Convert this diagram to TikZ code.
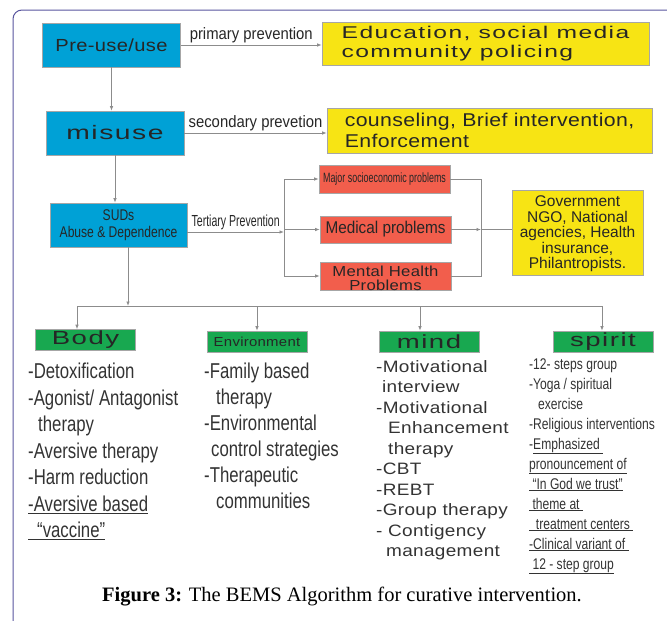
\documentclass[tikz,border=0pt]{standalone}
\usepackage{fontspec}
\setmainfont{Liberation Serif}
\setsansfont{Liberation Sans}
\newfontfamily\wideF[FakeStretch=1.45,LetterSpace=8]{Liberation Sans}
\newfontfamily\medF[FakeStretch=1.15,LetterSpace=2]{Liberation Sans}
\newfontfamily\labF[FakeStretch=0.9]{Liberation Sans}
\newfontfamily\condF[FakeStretch=0.78]{Liberation Sans}
\newfontfamily\narrowF[FakeStretch=0.66]{Liberation Sans}
\usetikzlibrary{arrows.meta}
\definecolor{boxblue}{RGB}{0,161,214}
\definecolor{boxyellow}{RGB}{247,228,20}
\definecolor{boxred}{RGB}{242,94,76}
\definecolor{boxgreen}{RGB}{24,168,80}
\definecolor{framecol}{RGB}{88,84,158}
\begin{document}
\begin{tikzpicture}[x=1pt,y=-1pt,
  box/.style={draw=black!35,line width=0.6pt,inner sep=0pt,text=black!85},
  blue box/.style={box,fill=boxblue,minimum width=138pt,minimum height=44pt},
  yellow box/.style={box,fill=boxyellow,align=left},
  red box/.style={box,fill=boxred,minimum width=131pt,minimum height=28pt},
  green box/.style={box,fill=boxgreen,minimum width=100pt,minimum height=21pt,font=\wideF\fontsize{19}{19}\selectfont},
  link/.style={draw=black!45,line width=0.8pt},
  arr/.style={link,-{Latex[length=4.5pt,width=3.5pt]}},
  lab/.style={above,inner sep=2pt,text=black!85},
  list text/.style={anchor=north west,inner sep=0pt,align=left,text=black!80}]
  \useasboundingbox (0,0) rectangle (667,621);
  \draw[framecol,line width=1pt,rounded corners=9pt] (13,621) -- (13,10) -- (667,10);

  % prevention chain
  \node[blue box,font=\medF\fontsize{17.5}{20}\selectfont] (preuse) at (111.5,45) {Pre-use/use};
  \node[yellow box,minimum width=327pt,minimum height=43pt,font=\wideF\fontsize{17}{19.5}\selectfont] (edu) at (485.5,43.5) {Education, social media\\community policing};

  \node[blue box,font=\wideF\fontsize{19.5}{22}\selectfont] (misuse) at (115,133) {misuse};
  \node[yellow box,minimum width=325pt,minimum height=45pt,font=\medF\fontsize{18.5}{20.5}\selectfont] (counsel) at (489.5,130.5) {counseling, Brief intervention,\\Enforcement};

  \node[blue box,minimum width=137pt,align=center,font=\condF\fontsize{15.5}{17}\selectfont] (suds) at (118.5,225) {SUDs\\Abuse \& Dependence};

  \node[red box,font=\narrowF\fontsize{13.5}{14}\selectfont] (major) at (384.5,179) {Major socioeconomic problems};
  \node[red box,minimum height=27pt,font=\labF\fontsize{17}{18}\selectfont] (medical) at (385.5,229.5) {Medical problems};
  \node[red box,font=\medF\fontsize{14.5}{13}\selectfont] (mental) at (385.5,276)
  {\raisebox{-7.5pt}[0pt][0pt]{\begin{tabular}{@{}c@{}}Mental Health\\Problems\end{tabular}}};

  \node[yellow box,align=center,minimum width=131pt,minimum height=85pt,font=\sffamily\fontsize{15.5}{15.5}\selectfont] (gov) at (577.5,232.5) {\rule{0pt}{14pt}Government\\NGO, National\\agencies, Health\\insurance,\\Philantropists.};

  \draw[arr] (preuse.east) -- node[lab,font=\labF\fontsize{16.5}{18}\selectfont] {primary prevention} (edu.west |- preuse.east);
  \draw[arr] (misuse.east) -- node[lab,font=\labF\fontsize{16.5}{18}\selectfont] {secondary prevetion} (counsel.west |- misuse.east);
  \draw[arr] (preuse.south) -- (preuse.south |- misuse.north);
  \draw[arr] (misuse.south) -- (misuse.south |- suds.north);

  \coordinate (split) at (284,232);
  \coordinate (merge) at (481,229.5);
  \draw[arr] (suds.east |- split) -- node[lab,font=\narrowF\fontsize{16}{18}\selectfont] {Tertiary Prevention} (split);
  \draw[link] (split |- major.west) -- (split |- mental.west);
  \foreach \p in {major,medical,mental}
    \draw[arr] (split |- \p.west) -- (\p.west);
  \draw[link] (major.east) -- (merge |- major.east) -- (merge |- mental.east) -- (mental.east);
  \draw[arr] (medical.east) -- (merge);
  \draw[link] (merge) -- (gov.west |- merge);

  % BEMS branches
  \node[green box] (body) at (85.5,340) {Body};
  \node[green box,font=\medF\fontsize{13}{14}\selectfont] (env) at (257,341.5) {Environment};
  \node[green box] (mind) at (429,341.5) {mind};
  \node[green box] (spirit) at (603,341.5) {spirit};

  \coordinate (bus) at (128,306);
  \coordinate (b1) at (77,306);
  \coordinate (b2) at (257,306);
  \coordinate (b3) at (420,306);
  \coordinate (b4) at (602,306);
  \draw[arr] (suds.south -| bus) -- (bus);
  \draw[link] (b1) -- (b4);
  \foreach \b/\g in {b1/body,b2/env,b3/mind,b4/spirit}
    \draw[arr] (\b) -- (\b |- \g.north);

  \node[list text,font=\condF\fontsize{21.5}{26.5}\selectfont] (bodylist) at (28,363)
  {-Detoxification\\-Agonist/ Antagonist\\\hspace*{10pt}therapy\\-Aversive therapy\\-Harm reduction\\
   \underline{-Aversive based}\\\underline{\hspace*{9pt}“vaccine”}};
  \node[list text,font=\condF\fontsize{21.5}{26}\selectfont] (envlist) at (204,363)
  {-Family based\\\hspace*{12pt}therapy\\-Environmental\\\hspace*{7pt}control strategies\\-Therapeutic\\\hspace*{12pt}communities};
  \node[list text,font=\medF\fontsize{16.5}{20.5}\selectfont] (mindlist) at (376,360)
  {-Motivational\\\hspace*{6pt}interview\\-Motivational\\\hspace*{12pt}Enhancement\\\hspace*{12pt}therapy\\-CBT\\-REBT\\
   -Group therapy\\- Contigency\\\hspace*{10pt}management};
  \node[list text,font=\condF\fontsize{15.5}{20}\selectfont] (spiritlist) at (529,358)
  {-12- steps group\\-Yoga / spiritual\\\hspace*{9pt}exercise\\-Religious interventions\\
   -\underline{Emphasized\ }\\\underline{pronouncement of}\\\underline{\ “In God we trust”}\\
   \underline{\ theme at\ }\\\underline{\ \ treatment centers\ }\\\underline{-Clinical variant of\ }\\\underline{\ 12 - step group}};

  \node[font=\fontsize{20.5}{22}\selectfont] (caption) at (342,597) {\textbf{Figure 3:} The BEMS Algorithm for curative intervention.};
\end{tikzpicture}
\end{document}
